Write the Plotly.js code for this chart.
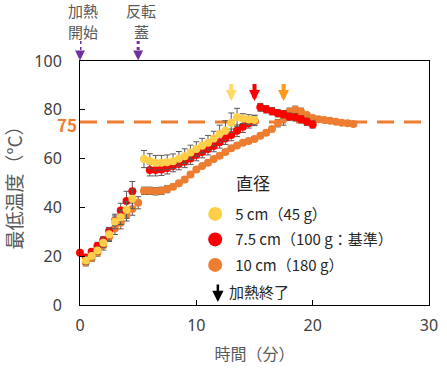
<!DOCTYPE html>
<html><head><meta charset="utf-8">
<script src="https://cdn.plot.ly/plotly-3.0.1.min.js"></script>
<style>html,body{margin:0;padding:0;background:#fff}#chart{width:447px;height:376px}</style>
</head><body><div id="chart"></div>
<script>
// ---- data ----
var seriesNames = ['5 cm（45 g）', '7.5 cm（100 g：基準）', '10 cm（180 g）'];
var yellowTime = [0.5,1,1.5,2,2.5,3,3.5,4,4.5, 5.5,6,6.5,7,7.5,8,8.5,9,9.5,10,10.5,11,11.5,12,12.5,13,13.5,14,14.5,15];
var yellowTemp = [18.2,20.1,22.3,25.5,29.0,34.2,36.0,39.0,43.5, 59.8,59.0,58.3,58.3,58.5,58.9,59.9,61.0,62.5,63.9,65.3,66.5,68.2,70.2,71.5,74.7,76.9,76.4,76.0,75.8];
var yellowErr  = [1.5,1.5,1.5,2.0,2.5,3.0,3.0,3.5,4.0, 3.5,3.0,3.0,3.0,3.0,3.0,3.0,3.0,3.0,3.0,3.0,3.0,3.0,3.5,4.0,4.0,3.7,2.0,2.0,2.0];
var redTime = [0,0.5,1,1.5,2,2.5,3,3.5,4,4.5, 6,6.5,7,7.5,8,8.5,9,9.5,10,10.5,11,11.5,12,12.5,13,13.5,14,14.5,15,15.5,16,16.5,17,17.5,18,18.5,19,19.5,20];
var redTemp = [21.4,19.5,21.8,24.2,26.5,30.3,34.5,38.7,42.6,46.6, 55.3,55.3,55.5,56.1,57.0,57.8,58.7,60.0,61.5,62.7,63.9,65.2,66.7,68.2,69.7,71.4,73.1,74.5,75.5,81.0,80.2,79.4,78.6,78.2,77.2,76.9,76.1,75.1,74.0];
var redErr  = [0,1.0,1.0,1.5,1.5,1.5,2.0,3.0,4.0,4.0, 2.4,2.4,2.4,2.4,2.4,2.4,2.4,2.4,2.4,2.4,2.4,2.4,2.4,2.4,2.4,2.4,2.4,2.0,2.0,1.6,1.5,1.5,1.5,1.5,1.5,1.5,1.5,1.5,1.5];
var orangeTime = [0.5,1,1.5,2,2.5,3,3.5,4,4.5,5, 5.5,6,6.5,7,7.5,8,8.5,9,9.5,10,10.5,11,11.5,12,12.5,13,13.5,14,14.5,15,15.5,16,16.5,17,17.5,18,18.5,19,19.5,20,20.5,21,21.5,22,22.5,23,23.5];
var orangeTemp = [17.5,19.3,21.5,24.5,28.0,31.4,33.7,36.9,39.3,41.9, 46.8,46.8,46.6,46.8,47.5,48.5,49.9,51.4,53.5,55.5,57.0,58.3,59.8,61.2,62.7,64.2,65.4,66.5,67.2,68.0,69.4,70.6,72.1,74.5,76.3,79.2,80.0,79.2,77.9,76.6,76.1,75.8,75.5,75.1,74.7,74.5,74.2];
var orangeErr  = [1.5,1.5,1.5,2.0,2.0,2.5,2.5,2.5,2.5,2.5, 1.5,1.5,1.5,1.5,1.5,1.0,1.0,1.0,1.0,1.0,1.0,1.0,1.0,1.0,1.0,1.0,1.0,1.0,1.0,1.0,1.0,1.0,1.0,1.5,2.6,1.5,1.5,1.5,1.0,1.0,1.0,1.0,1.0,1.0,1.0,1.0,1.0];
var refTemp = 75;
var heatEnd = [13, 15, 17.5];      // 加熱終了 per series
var eventTimes = [0, 5];
var eventLabels = [['加熱', '開始'], ['反転', '蓋']];
var xTicks = [0,10,20,30];
var yTicks = [0,20,40,60,80,100];

var cYellow = '#FFCF4A', cRed = '#FF0000', cOrange = '#ED7D31';
var arrowCols = ['#FFD966', '#FF0000', '#FF9A1A'];
var errCol = '#595959';
var purple = '#7030A0';
var font = '"Noto Sans CJK JP", "Noto Sans", sans-serif';

function mk(name, x, y, e, col, grp) {
  return {type:'scatter', mode:'markers', name:name, x:x, y:y, legendgroup:grp, showlegend:false,
    marker:{color:col, size:8}, cliponaxis:false,
    error_y:{type:'data', array:e, visible:true, color:errCol, thickness:1, width:3}};
}
var traces = [
  mk(seriesNames[2], orangeTime, orangeTemp, orangeErr, cOrange, 'c'),
  mk(seriesNames[1], redTime, redTemp, redErr, cRed, 'b'),
  mk(seriesNames[0], yellowTime, yellowTemp, yellowErr, cYellow, 'a')
];
// legend entries with larger symbols
[[seriesNames[0], cYellow,'a'],[seriesNames[1], cRed,'b'],[seriesNames[2], cOrange,'c']].forEach(function(s){
  traces.push({type:'scatter', mode:'markers', name:s[0], x:[null], y:[null], legendgroup:s[2],
    marker:{color:s[1], size:14}, showlegend:true});
});

var annotations = [];
var shapes = [];
// reference line
shapes.push({type:'line', xref:'paper', x0:0, x1:1, yref:'y', y0:refTemp, y1:refTemp,
  line:{color:cOrange, width:3, dash:'17px,10px'}, layer:'below'});
annotations.push({xref:'paper', x:0, yref:'y', y:refTemp, text:'<b>' + refTemp + '</b>', showarrow:false,
  xanchor:'right', yanchor:'middle', xshift:-1, yshift:-2, font:{family:font, size:17, color:cOrange}});
// heating end arrows
heatEnd.forEach(function(t, i){
  annotations.push({x:t, y:83.6, xref:'x', yref:'y', ax:t, ay:91.2, axref:'x', ayref:'y', showarrow:true,
    arrowhead:2, arrowsize:0.55, arrowwidth:4, arrowcolor:arrowCols[i], text:''});
});
// event markers above plot
eventTimes.forEach(function(t, i){
  annotations.push({x:t, xref:'x', y:1.002, yref:'paper', ax:t, axref:'x', ay:1.045, ayref:'paper',
    showarrow:true, arrowhead:2, arrowsize:0.9, arrowwidth:2.2, arrowcolor:purple, text:''});
  shapes.push({type:'line', xref:'x', x0:t, x1:t, yref:'paper', y0:1.045, y1:1.082,
    line:{color:purple, width:3, dash:'dot'}});
  annotations.push({x:t, xref:'x', y:1.205, yref:'paper', yanchor:'middle', xshift:3, showarrow:false,
    text:eventLabels[i][0], font:{family:font, size:15, color:'#595959'}});
  annotations.push({x:t, xref:'x', y:1.12, yref:'paper', yanchor:'middle', xshift:3, showarrow:false,
    text:eventLabels[i][1], font:{family:font, size:15, color:'#595959'}});
});
// legend title
annotations.push({xref:'paper', x:0.44, yref:'paper', y:0.503, text:'直径', showarrow:false,
  xanchor:'left', yanchor:'middle', font:{family:font, size:17, color:'#262626'}});
// heat end legend
annotations.push({xref:'paper', x:0.395, yref:'paper', y:0.012, ax:0, ay:-19, showarrow:true,
  arrowhead:2, arrowsize:0.9, arrowwidth:2.5, arrowcolor:'#000', text:''});
annotations.push({xref:'paper', x:0.42, yref:'paper', y:0.054, text:'加熱終了', showarrow:false,
  xanchor:'left', yanchor:'middle', font:{family:font, size:15, color:'#262626'}});

var layout = {
  width:447, height:376, margin:{l:80, r:18, t:61, b:71},
  paper_bgcolor:'#fff', plot_bgcolor:'#fff', font:{family:font, color:'#404040'},
  showlegend:true,
  legend:{x:0.33, xanchor:'left', y:0.44, yanchor:'top', traceorder:'grouped', tracegroupgap:3,
    font:{family:font, size:15, color:'#262626'}, bgcolor:'rgba(0,0,0,0)'},
  xaxis:{range:[0,30], tickvals:xTicks, ticks:'inside', ticklen:5, tickcolor:'#000',
    showline:true, linecolor:'#000', linewidth:1, mirror:true, showgrid:false, zeroline:false,
    tickfont:{family:'"Noto Sans", sans-serif', size:16, color:'#404040'}, ticklabelstandoff:6,
    title:{text:'時間（分）', font:{size:16, color:'#595959'}, standoff:13}},
  yaxis:{range:[0,100], tickvals:yTicks, ticks:'inside', ticklen:5, tickcolor:'#000',
    showline:true, linecolor:'#000', linewidth:1, mirror:true, showgrid:false, zeroline:false,
    tickfont:{family:'"Noto Sans", sans-serif', size:16, color:'#404040'}, ticklabelstandoff:14,
    title:{text:'最低温度（°C）', font:{size:19, color:'#595959'}, standoff:8}},
  shapes:shapes, annotations:annotations
};
Plotly.newPlot('chart', traces, layout, {displayModeBar:false, staticPlot:true});
</script></body></html>
